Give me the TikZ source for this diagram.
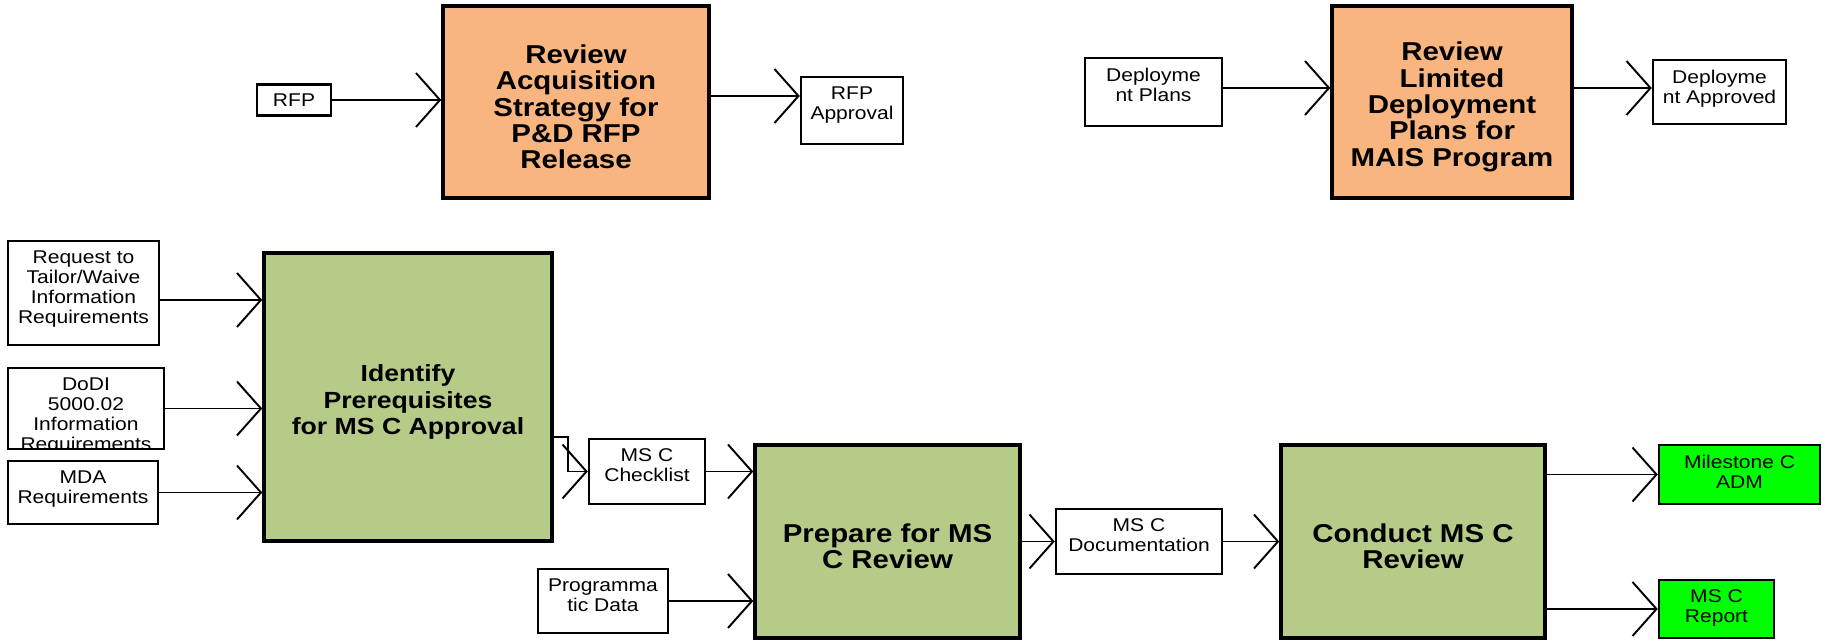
\documentclass[tikz,border=0pt]{standalone}
\usepackage{fontspec}
\setmainfont{Liberation Sans}[FakeStretch=1.14]
\usepackage{tikz}
\usetikzlibrary{
  arrows.meta,
  positioning
}
\definecolor{msReview}{HTML}{F8B580}
\definecolor{msTask}{HTML}{B7CB88}
\definecolor{msOut}{HTML}{00FF00}
\tikzset{
  headtext/.style={inner sep=0pt, minimum size=0pt, align=center, font=\fontsize{14.7}{15}\selectfont\bfseries},
  bodytext/.style={inner sep=0pt, minimum size=0pt, align=center, font=\fontsize{10.5}{11.4}\selectfont},
  actbox/.style={
    draw, line width=2pt, inner sep=0pt,
    path picture={\node[headtext] at ([yshift=-0.1cm]path picture bounding box.center) {#1};}
  },
  review/.style={actbox={#1}, fill=msReview},
  task/.style={actbox={#1}, fill=msTask},
  databox/.style={
    draw, line width=1.4pt, fill=white, inner sep=0pt,
    path picture={\node[bodytext, anchor=north] at ([yshift=-4.8pt]path picture bounding box.north) {#1};}
  },
  outbox/.style={databox={#1}, fill=msOut},
  flow/.style={-{Straight Barb[length=4.8mm, width=10.8mm]}, line width=1.1pt}
}
\begin{document}
\begin{tikzpicture}[x=0.02cm, y=-0.02cm]
  \useasboundingbox (0,0) rectangle (1822,644);
  \node[review={Review\\Acquisition\\Strategy for\\P\&D RFP\\Release}, minimum width=5.32cm, minimum height=3.84cm] (acq) at (576,102) {};
  \node[databox={RFP}, minimum width=1.48cm, minimum height=0.62cm] (rfp) at (294,100) {};
  \node[databox={RFP\\Approval}, minimum width=2.04cm, minimum height=1.34cm] (rfpok) at (852,110.5) {};
  \node[review={Review\\Limited\\Deployment\\Plans for\\MAIS Program}, minimum width=4.8cm, minimum height=3.84cm] (ldp) at (1452,102) {};
  \node[databox={Deployme\\nt Plans}, minimum width=2.74cm, minimum height=1.36cm] (dplan) at (1153.5,92) {};
  \node[databox={Deployme\\nt Approved}, minimum width=2.66cm, minimum height=1.28cm] (dok) at (1719.5,92) {};
  \node[task={Identify\\Prerequisites\\for MS C Approval}, headtext/.append style={font=\fontsize{13.3}{15}\selectfont\bfseries}, minimum width=5.76cm, minimum height=5.76cm] (ident) at (408,397) {};
  \node[databox={Request to\\Tailor/Waive\\Information\\Requirements}, minimum width=3.02cm, minimum height=2.08cm] (req) at (83.5,293) {};
  \node[databox={DoDI\\5000.02\\Information\\Requirements}, minimum width=3.12cm, minimum height=1.62cm] (dodi) at (86,408.5) {};
  \node[databox={MDA\\Requirements}, minimum width=3cm, minimum height=1.26cm] (mda) at (83,492.5) {};
  \node[databox={MS C\\Checklist}, minimum width=2.32cm, minimum height=1.3cm] (chk) at (647,471.5) {};
  \node[task={Prepare for MS\\C Review}, minimum width=5.3cm, minimum height=3.86cm] (prep) at (887.5,541.5) {};
  \node[databox={Programma\\tic Data}, minimum width=2.6cm, minimum height=1.28cm] (prog) at (603,601) {};
  \node[databox={MS C\\Documentation}, minimum width=3.32cm, minimum height=1.3cm] (doc) at (1139,541.5) {};
  \node[task={Conduct MS C\\Review}, minimum width=5.28cm, minimum height=3.86cm] (cond) at (1413,541.5) {};
  \node[outbox={Milestone C\\ADM}, minimum width=3.22cm, minimum height=1.18cm] (adm) at (1739.5,474.5) {};
  \node[outbox={MS C\\Report}, minimum width=2.3cm, minimum height=1.16cm] (rep) at (1716.5,609) {};

  \coordinate (rfpin) at ([yshift=0.29cm]rfpok.west);
  \coordinate (dpout) at ([yshift=0.08cm]dplan.east);
  \coordinate (dokin) at ([yshift=0.08cm]dok.west);
  \coordinate (reqout) at ([yshift=-0.14cm]req.east);
  \draw[flow] (rfp) -- (rfp -| acq.west);
  \draw[flow] (acq.east |- rfpin) -- (rfpin);
  \draw[flow] (dpout) -- (dpout -| ldp.west);
  \draw[flow] (ldp.east |- dokin) -- (dokin);
  \draw[flow] (reqout) -- (reqout -| ident.west);
  \draw[flow] (dodi) -- (dodi -| ident.west);
  \draw[flow] (mda) -- (mda -| ident.west);
  \draw[flow] ([yshift=-0.8cm]ident.east) -- ++(14,0) |- (chk.west);
  \draw[flow] (chk) -- (chk -| prep.west);
  \draw[flow] (prog) -- (prog -| prep.west);
  \draw[flow] (prep) -- (doc);
  \draw[flow] (doc) -- (cond);
  \draw[flow] (cond.east |- adm) -- (adm);
  \draw[flow] (cond.east |- rep) -- (rep);
\end{tikzpicture}
\end{document}
